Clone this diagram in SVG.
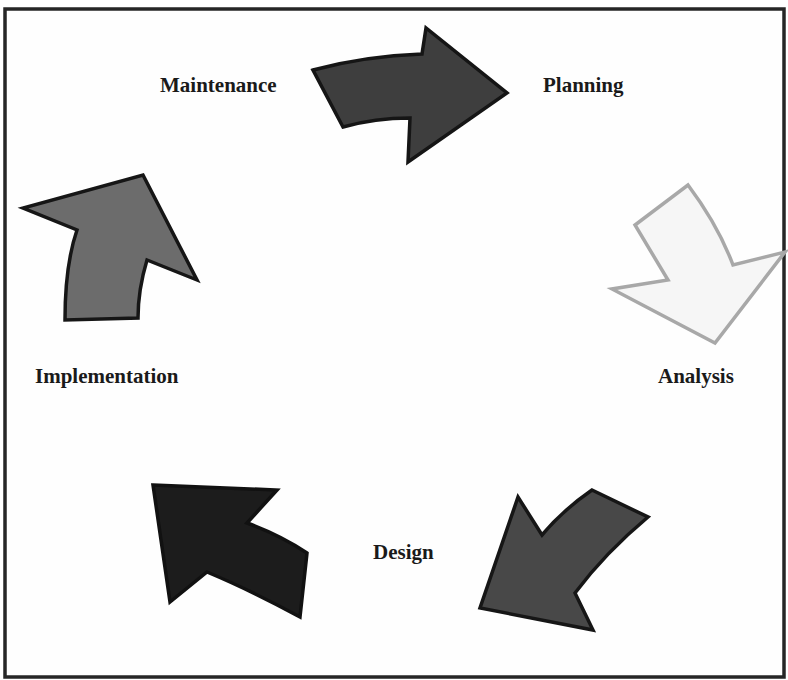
<svg xmlns="http://www.w3.org/2000/svg" width="788" height="680" viewBox="0 0 788 680">
<style>
.lbl{font-family:"Liberation Serif","Times New Roman",serif;font-weight:bold;font-size:21px;fill:#1a1a1a}
.arr{stroke-width:3.5;stroke-linejoin:miter}
</style>
<rect x="0" y="0" width="788" height="680" fill="#ffffff"/>
<rect x="5" y="9" width="779" height="668" fill="#fefefe" stroke="#262626" stroke-width="3.5"/>
<g id="connectors">
<path id="arrow-planning" class="arr" d="M313,70 Q365,56 422,54 L426,28 L507,93 L408,162 L410,118 Q375,118 343,127 Z" fill="#3e3e3e" stroke="#151515"/>
<path id="arrow-analysis" class="arr" d="M688,185 Q718,225 733,265 L785,252 L715,343 L612,289 L668,280 Q650,250 635,225 Z" fill="#f6f6f6" stroke="#a8a8a8"/>
<path id="arrow-design" class="arr" d="M592,490 L648,517 Q605,553 575,593 L593,630 L480,608 L518,497 L542,535 Q563,510 592,490 Z" fill="#484848" stroke="#161616"/>
<path id="arrow-implementation" class="arr" d="M153,485 L277,490 L247,523 Q280,535 307,553 L300,617 Q250,590 207,572 L170,602 Z" fill="#1c1c1c" stroke="#111111"/>
<path id="arrow-maintenance" class="arr" d="M65,320 Q65,265 77,230 L23,208 L143,175 L197,280 L147,260 Q138,290 138,318 Z" fill="#6c6c6c" stroke="#161616"/>
</g>
<g id="node-maintenance"><text class="lbl" x="160" y="92">Maintenance</text></g>
<g id="node-planning"><text class="lbl" x="543" y="92">Planning</text></g>
<g id="node-analysis"><text class="lbl" x="658" y="383">Analysis</text></g>
<g id="node-design"><text class="lbl" x="373" y="559">Design</text></g>
<g id="node-implementation"><text class="lbl" x="35" y="383">Implementation</text></g>
</svg>
